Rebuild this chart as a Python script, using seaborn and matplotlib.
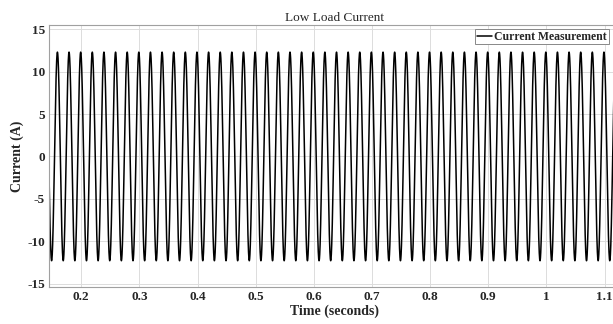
import numpy as np
import pandas as pd
import matplotlib
matplotlib.use("Agg")
import matplotlib.pyplot as plt
import seaborn as sns

# Values
title = "Low Load Current"
x_label = "Time (seconds)"
y_label = "Current (A)"
series_name = "Current Measurement"
peak_amplitude = 12.3      # A
line_frequency = 50.0      # Hz
first_peak_time = 0.019    # s (peaks every 1/50 s)
t_start, t_end = 0.1445, 1.125
x_ticks = [0.2, 0.3, 0.4, 0.5, 0.6, 0.7, 0.8, 0.9, 1.0, 1.1]
x_tick_labels = ["0.2", "0.3", "0.4", "0.5", "0.6", "0.7", "0.8", "0.9", "1", "1.1"]
y_ticks = [-15, -10, -5, 0, 5, 10, 15]
y_tick_labels = ["-15", "-10", "-5", "0", "5", "10", "15"]

t = np.linspace(t_start, t_end, 20000)
current = peak_amplitude * np.cos(2 * np.pi * line_frequency * (t - first_peak_time))
df = pd.DataFrame({"Time": t, "Current": current, "Series": series_name})

sns.set_theme(style="whitegrid")
plt.rcParams["font.family"] = ["Liberation Serif", "DejaVu Serif"]
plt.rcParams["axes.unicode_minus"] = False

fig = plt.figure(figsize=(6.13, 3.24), dpi=100)
ax = fig.add_axes([0.0799, 0.1142, 0.93, 0.8086])

sns.lineplot(data=df, x="Time", y="Current", hue="Series", palette=["black"],
             linewidth=1.1, ax=ax, estimator=None)

ax.set_xlim(t_start, t_end)
ax.set_ylim(-15.4, 15.5)
ax.set_xticks(x_ticks)
ax.set_xticklabels(x_tick_labels)
ax.set_yticks(y_ticks)
ax.set_yticklabels(y_tick_labels)
for lab in ax.get_xticklabels() + ax.get_yticklabels():
    lab.set_fontweight("bold")
    lab.set_fontsize(9.5)
ax.tick_params(axis="both", length=0, pad=3)

ax.grid(True, color="#dcdcdc", linewidth=0.7)
for s in ax.spines.values():
    s.set_visible(True)
    s.set_color("#a0a0a0")
    s.set_linewidth(0.8)

ax.set_title(title, fontsize=9.5, pad=3)
ax.set_xlabel(x_label, fontsize=10, fontweight="bold", labelpad=1)
ax.set_ylabel(y_label, fontsize=10, fontweight="bold", labelpad=2)

leg = ax.legend(loc="upper right", bbox_to_anchor=(0.982, 0.985), frameon=True,
                fancybox=False, edgecolor="#888888", framealpha=1,
                prop={"weight": "bold", "size": 8.5}, handlelength=1.3,
                handletextpad=0.2, borderpad=0.15, borderaxespad=0.0)
leg.get_frame().set_linewidth(0.7)

fig.savefig("out.png", dpi=100)
